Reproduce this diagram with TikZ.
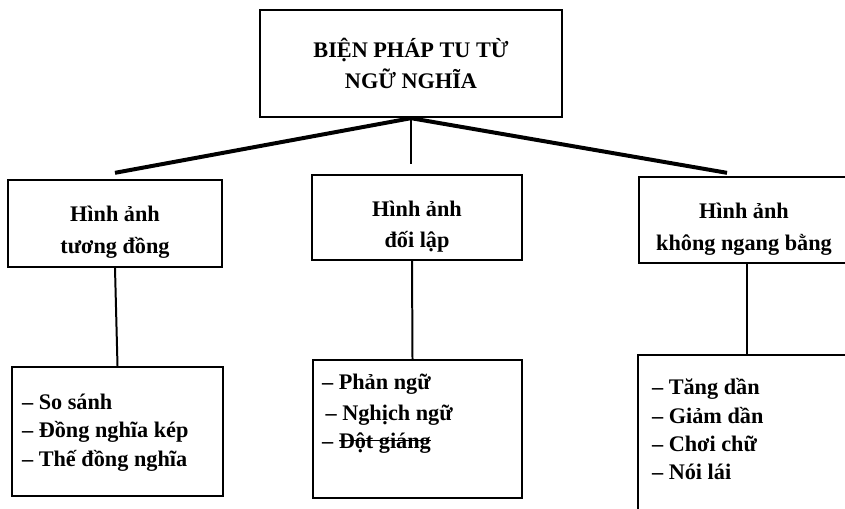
\documentclass[tikz,border=0pt]{standalone}
\usepackage{fontspec}
\setmainfont{Liberation Serif}
\usetikzlibrary{positioning}

\newlength\strikelen
\newcommand\strikeout[1]{\settowidth{\strikelen}{#1}\rlap{\rule[0.3em]{\strikelen}{0.08em}}#1}
\newcommand\lowstrut{\rule{0pt}{1.5em}}

\tikzset{
  box/.style={draw, line width=2pt, align=center, font=\bfseries\fontsize{19}{27}\selectfont},
  items/.style={align=left, inner sep=0pt, font=\bfseries\fontsize{19}{24}\selectfont},
  link/.style={line width=3.4pt},
  stem/.style={line width=1.7pt}
}

\begin{document}
\begin{tikzpicture}[x=0.03cm, y=-0.03cm]
\useasboundingbox (0,0) rectangle (845,509);

\node [box, minimum width=9.06cm, minimum height=3.21cm] (bptt) at (411,63.5) {BIỆN PHÁP TU TỪ\\NGỮ NGHĨA};

\node [box, minimum width=6.42cm, minimum height=2.61cm] (tuongdong) at (115,223.5) {\lowstrut Hình ảnh\\tương đồng};
\node [box, minimum width=6.3cm, minimum height=2.55cm] (doilap) at (417,217.5) {\lowstrut Hình ảnh\\đối lập};
\node [box, minimum width=6.3cm, minimum height=2.58cm] (khongngang) at (744,220) {\lowstrut Hình ảnh\\không ngang bằng};

\node [box, minimum width=6.33cm, minimum height=3.87cm] (tdbox) at (117.5,431.5) {};
\node [box, minimum width=6.27cm, minimum height=4.14cm] (dlbox) at (417.5,429) {};
\node [box, minimum width=6.36cm, minimum height=5.4cm] (kbox) at (744,445) {};

\node [items, below right=0.85cm and 0.33cm of tdbox.north west] (tditems) {-- So sánh\\-- Đồng nghĩa kép\\-- Thế đồng nghĩa};
\node [items, below right=0.45cm and 0.3cm of dlbox.north west] (dlitems) {-- Phản ngữ\\[2pt]\hspace{3pt}-- Nghịch ngữ\\-- \strikeout{Đột giáng}};
\node [items, below right=0.74cm and 0.45cm of kbox.north west] (kitems) {-- Tăng dần\\-- Giảm dần\\-- Chơi chữ\\-- Nói lái};

% branches from the title
\draw [link] (bptt.south) -- ([yshift=0.18cm]tuongdong.north);
\draw [link] (bptt.south) -- ([xshift=-0.51cm, yshift=0.09cm]khongngang.north);
\draw [stem] (bptt.south) -- ([yshift=0.3cm]bptt.south |- doilap.north);

% down to the lists
\draw [stem] (tuongdong.south) -- (tdbox.north);
\draw [stem] ([xshift=-0.15cm]doilap.south) -- ([xshift=-0.15cm]dlbox.north);
\draw [stem] ([xshift=0.09cm]khongngang.south) -- ([xshift=0.09cm]kbox.north);
\end{tikzpicture}
\end{document}
